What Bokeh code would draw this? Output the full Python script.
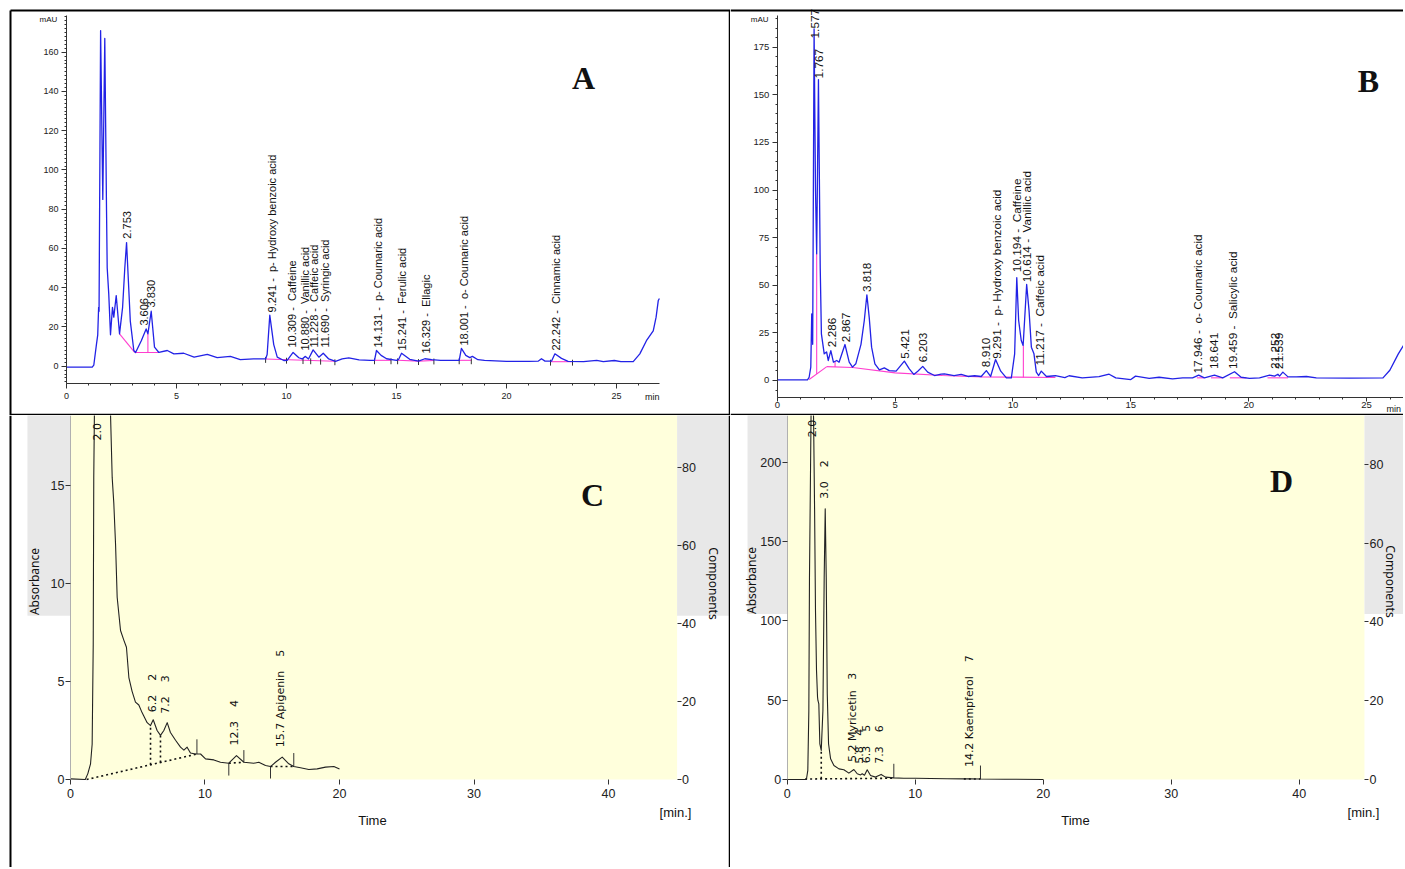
import math
from bokeh.plotting import figure
from bokeh.models import Range1d, LinearAxis, SingleIntervalTicker, FixedTicker, Label
from bokeh.layouts import column, row
from bokeh.embed import file_html
from bokeh.resources import INLINE
from bokeh.core.properties import value

NB = "\u00a0"

# ---------------- Panel A (HPLC phenolics, mAU vs min) ----------------
a_trace = [(0, -0.5), (1.17, -0.5), (1.24, 0.5), (1.36, 11), (1.42, 16), (1.46, 30), (1.48, 28),
           (1.55, 171), (1.65, 85), (1.74, 167), (1.82, 79), (1.85, 50), (1.92, 37), (2.0, 16),
           (2.09, 30), (2.15, 25), (2.26, 36), (2.41, 16.5), (2.55, 30), (2.65, 50), (2.73, 63),
           (2.9, 23), (3.06, 8), (3.14, 7), (3.4, 13), (3.62, 19), (3.7, 16.5), (3.85, 28),
           (4.0, 9.7), (4.2, 7), (4.58, 8), (4.88, 6.3), (5.33, 6.6), (5.8, 4.6), (6.4, 6),
           (6.85, 4.4), (7.45, 5), (7.9, 3.4), (8.5, 3.7), (9.05, 3.7), (9.12, 6), (9.24, 26),
           (9.42, 11), (9.58, 4.6), (9.88, 2.9), (10.03, 3.0), (10.3, 7), (10.56, 4.3),
           (10.71, 3.7), (10.86, 5), (11.0, 3.7), (11.21, 8.3), (11.47, 4.6), (11.67, 6.6),
           (11.92, 3.7), (12.23, 2.5), (12.53, 3.7), (12.83, 4.2), (13.3, 3.2), (13.8, 3.0),
           (14.0, 3.0), (14.09, 8.0), (14.3, 5.5), (14.55, 3.8), (15.0, 3.0), (15.1, 3.5),
           (15.23, 6.6), (15.6, 3.5), (16.0, 2.6), (16.29, 3.8), (16.6, 3.3), (17.0, 3.0),
           (17.85, 3.0), (17.95, 9.1), (18.15, 5.5), (18.33, 4.4), (18.45, 5.0), (18.7, 3.3),
           (19.0, 3.0), (20.0, 2.5), (21.0, 2.5), (21.45, 2.6), (21.59, 3.8), (21.75, 2.6),
           (22.05, 2.6), (22.2, 6.3), (22.5, 4.0), (22.8, 2.5), (23.5, 2.3), (24.1, 3.0),
           (24.4, 2.3), (24.9, 2.9), (25.2, 2.3), (25.76, 2.3), (26.06, 6.3), (26.36, 13),
           (26.67, 18), (26.8, 25), (26.9, 33.5), (26.95, 34.5)]
a_baselines = [[(2.41, 16.5), (3.1, 7)], [(3.1, 7), (4.2, 7)], [(3.7, 7), (3.7, 16.5)],
               [(9.05, 3.7), (12.2, 2.5)], [(14.0, 3.0), (14.75, 3.0)], [(15.05, 3.0), (16.0, 2.6)],
               [(16.0, 2.6), (16.7, 2.9)], [(17.85, 3.0), (18.4, 3.0)], [(22.0, 2.3), (23.0, 2.3)]]
a_events = [(9.05, 3.7), (10.0, 3.3), (10.75, 3.1), (11.1, 3.0), (11.55, 2.8), (12.2, 2.5),
            (14.0, 3.0), (14.75, 3.0), (15.05, 3.0), (16.0, 2.6), (16.7, 2.9), (17.85, 3.0),
            (18.4, 3.0), (22.0, 2.3), (23.0, 2.3)]
a_labels = ["2.753", "3.606", "3.830",
            "9.241 -" + NB + " p- Hydroxy benzoic acid", "10.309 -" + NB + " Caffeine",
            "10.880 -" + NB + " Vanillic acid", "11.228 -" + NB + " Caffeic acid",
            "11.690 -" + NB + " Syringic acid", "14.131 -" + NB + " p- Coumaric acid",
            "15.241 -" + NB + " Ferulic acid", "16.329 -" + NB + " Ellagic",
            "18.001 -" + NB + " o- Coumaric acid", "22.242 -" + NB + " Cinnamic acid"]
a_label_x = [2.77, 3.52, 3.84, 9.32, 10.27, 10.84, 11.23, 11.73, 14.16, 15.25, 16.36, 18.09, 22.27]
a_label_y = [65, 20.7, 29.9, 27.4, 9.5, 8, 9.5, 9.5, 9.5, 8, 6.5, 10.5, 8]

# ---------------- Panel B ----------------
b_trace = [(0, 0.3), (1.28, 0.3), (1.35, 1.7), (1.42, 7), (1.46, 35), (1.5, 19), (1.56, 184.6),
           (1.62, 100), (1.67, 66.5), (1.745, 158), (1.82, 59.5), (1.87, 24.5), (1.99, 14),
           (2.09, 15), (2.16, 10.5), (2.27, 15.7), (2.38, 9.6), (2.52, 10.5), (2.62, 9.6),
           (2.87, 18.9), (3.05, 9.6), (3.19, 7), (3.33, 8.75), (3.55, 19), (3.69, 31.5),
           (3.8, 45), (3.9, 33), (4.0, 17.5), (4.14, 8.75), (4.33, 5.6), (4.54, 6.6), (4.75, 5.2),
           (5.04, 4.9), (5.18, 7), (5.39, 10.2), (5.6, 6.1), (5.79, 3.2), (5.96, 4.9), (6.17, 7.4),
           (6.38, 4.4), (6.67, 2.6), (6.95, 3.3), (7.09, 3.5), (7.5, 2.6), (7.8, 3.2), (8.09, 2.1),
           (8.37, 2.5), (8.65, 2.1), (8.87, 5.2), (9.05, 2.1), (9.26, 11), (9.48, 4.9),
           (9.72, 1.4), (9.93, 1.4), (10.07, 14), (10.16, 54), (10.24, 31.5), (10.35, 21),
           (10.43, 18.4), (10.58, 50.4), (10.68, 36.8), (10.78, 17.5), (10.89, 14), (10.99, 4.4),
           (11.09, 2.6), (11.2, 4.9), (11.42, 2.1), (11.8, 2.5), (12.2, 1.5), (12.38, 2.5),
           (12.94, 1.4), (13.65, 2.0), (14.08, 3.3), (14.36, 1.4), (15.0, 0.5), (15.2, 2.3),
           (15.78, 1.1), (16.2, 1.7), (16.77, 0.9), (17.2, 1.4), (17.62, 1.4), (17.88, 2.8),
           (18.12, 1.4), (18.55, 2.8), (18.9, 1.4), (19.4, 4.6), (19.68, 1.7), (20.04, 1.1),
           (20.46, 1.4), (20.89, 2.8), (21.1, 2.3), (21.24, 3.3), (21.31, 2.3), (21.45, 4.4),
           (21.67, 1.9), (22.02, 1.9), (22.45, 2.1), (22.87, 1.4), (24.29, 1.2), (25.7, 1.4),
           (25.99, 5.4), (26.35, 14), (26.67, 20.4), (26.9, 24)]
b_baselines = [[(1.35, 0.5), (2.1, 7.3)],
               [(2.1, 7.3), (3.2, 6.8), (5.0, 4.0), (7.0, 2.6), (8.7, 1.9), (11.8, 1.6)],
               [(1.67, 3.4), (1.67, 66.5)], [(2.45, 7.1), (2.45, 10)], [(10.44, 1.6), (10.44, 18.4)],
               [(17.8, 1.4), (18.1, 1.4)], [(18.4, 1.4), (18.9, 1.4)], [(19.2, 1.4), (19.9, 1.4)],
               [(20.8, 1.4), (21.67, 1.4)]]
b_labels = ["1.577", "1.767", "2.286", "2.867", "3.818", "5.421", "6.203", "8.910",
            "9.291 -" + NB + " p- Hydroxy benzoic acid", "10.194 -" + NB + " Caffeine",
            "10.614 -" + NB + " Vanillic acid", "11.217 -" + NB + " Caffeic acid",
            "17.946 -" + NB + " o- Coumaric acid", "18.641", "19.459 -" + NB + " Salicylic acid",
            "21.252", "21.539"]
b_label_x = [1.59, 1.78, 2.31, 2.91, 3.81, 5.40, 6.20, 8.86, 9.33, 10.16, 10.61, 11.16,
             17.87, 18.52, 19.32, 21.10, 21.29]
b_label_y = [179.6, 158.6, 17.5, 20.1, 46.4, 11.4, 9.6, 7.0, 11.4, 56.9, 51.6, 7.9,
             3.7, 6.1, 6.1, 6.1, 6.1]

# ---------------- Panel C ----------------
c_trace = [(0, 0.03), (1.1, 0), (1.29, 0.3), (1.49, 0.8), (1.61, 1.8), (1.69, 6.9), (1.73, 15.4),
           (1.78, 18.8), (2.0, 40), (2.97, 18.8), (3.1, 15.4), (3.22, 14.1), (3.35, 12),
           (3.47, 9.3), (3.72, 7.6), (3.97, 7.1), (4.16, 6.75), (4.34, 5.2), (4.58, 4.5),
           (4.83, 3.95), (5.08, 3.8), (5.33, 3.4), (5.7, 2.9), (5.95, 2.75), (6.15, 3.05),
           (6.44, 2.5), (6.69, 2.25), (6.94, 2.5), (7.19, 2.9), (7.43, 2.4), (7.81, 2.0),
           (8.18, 1.65), (8.43, 1.5), (8.67, 1.65), (8.92, 1.35), (9.29, 1.3), (9.67, 1.3),
           (10.04, 1.05), (10.66, 1.0), (11.15, 0.88), (11.77, 0.83), (12.34, 1.22),
           (12.89, 0.88), (13.63, 0.83), (14.0, 0.88), (14.5, 0.71), (14.87, 0.66),
           (15.24, 0.88), (15.74, 1.14), (16.23, 0.8), (16.6, 0.66), (17.1, 0.6), (17.72, 0.51),
           (18.34, 0.54), (18.96, 0.63), (19.58, 0.66), (20.0, 0.54)]
c_dotted = [[(1.2, 0), (9.4, 1.3)], [(5.95, 0.75), (5.95, 2.75)], [(6.69, 0.87), (6.69, 2.25)],
            [(11.77, 0.83), (12.89, 0.88)], [(14.87, 0.66), (16.6, 0.66)]]
c_events = [[(9.4, 1.3), (9.4, 2.05)], [(11.77, 0.83), (11.77, 0.2)], [(12.89, 0.88), (12.89, 1.5)],
            [(14.87, 0.66), (14.87, 0.05)], [(16.6, 0.66), (16.6, 1.35)]]
c_labels = ["2.0", "6.2" + NB * 4 + "2", "7.2" + NB * 4 + "3", "12.3" + NB * 4 + "4",
            "15.7 Apigenin" + NB * 4 + "5"]
c_label_x = [1.97, 6.06, 7.04, 12.19, 15.61]
c_label_y = [17.3, 3.43, 3.35, 1.73, 1.65]

# ---------------- Panel D ----------------
d_trace = [(0, 0), (1.5, 0), (1.61, 5.7), (1.69, 43), (1.74, 127), (1.9, 260), (2.06, 228),
           (2.14, 170), (2.21, 106.5), (2.29, 68.7), (2.37, 52), (2.4, 49.8), (2.47, 47.7),
           (2.55, 22.5), (2.66, 18.3), (2.79, 43.5), (2.89, 127.5), (2.97, 170.6), (3.05, 127.5),
           (3.13, 54), (3.23, 22.5), (3.39, 13), (3.65, 8.8), (4.04, 6.7), (4.43, 6.1), (4.82, 4),
           (5.21, 6.3), (5.47, 3.6), (5.73, 2.9), (5.86, 3.6), (6.04, 2.7), (6.25, 6.1),
           (6.51, 2.5), (6.9, 1.5), (7.34, 3.2), (7.68, 1.5), (8.33, 1.0), (9.11, 0.8),
           (10.03, 0.8), (11.2, 0.6), (12.5, 0.5), (13.8, 0.4), (14.32, 0.5), (15.1, 0.3),
           (17.0, 0.2), (20.0, 0.0)]
d_dotted = [[(1.4, 0.3), (8.33, 0.8)], [(2.66, 0.4), (2.66, 18.3)], [(13.8, 0.4), (15.1, 0.3)]]
d_events = [[(8.33, 1.0), (8.33, 9.9)], [(15.1, 0.3), (15.1, 8.8)]]
d_labels = ["2.0", "3.0" + NB * 4 + "2", "5.2 Myricetin" + NB * 3 + "3", "5.8" + NB * 3 + "4",
            "6.3" + NB * 4 + "5", "7.3" + NB * 4 + "6", "14.2 Kaempferol" + NB * 4 + "7"]
d_label_x = [1.9, 2.9, 5.1, 5.65, 6.17, 7.21, 14.24]
d_label_y = [215.7, 176.9, 11, 10, 10.3, 10, 7.8]

# tick values
a_yticks_interval = 20
b_yticks_interval = 25
cd_xticks = [0, 10, 20, 30, 40]
c_yticks = [0, 5, 10, 15]
d_yticks = [0, 50, 100, 150, 200]
comp_ticks = [0, 20, 40, 60, 80]

# ---------------- styling ----------------
BLUE = "#2222e6"
MAGENTA = "#ff3fcf"
YELLOW = "#ffffdc"
GRAY = "#e8e8e8"
SANS = "Liberation Sans"
NARROW = "Liberation Sans Narrow, Liberation Sans"
VERD = "DejaVu Sans"
SERIF = "Liberation Serif"


def make_fig(w, h, xr, yr):
    p = figure(width=w, height=h, x_range=Range1d(*xr), y_range=Range1d(*yr),
               output_backend="svg", toolbar_location=None, title=None,
               x_axis_location=None, y_axis_location=None, min_border=0)
    p.xgrid.visible = False
    p.ygrid.visible = False
    p.outline_line_color = None
    p.background_fill_color = "white"
    p.border_fill_color = "white"
    return p


def unzip(pairs):
    return [q[0] for q in pairs], [q[1] for q in pairs]


def multi(p, groups, **kw):
    xs = [[q[0] for q in g] for g in groups]
    ys = [[q[1] for q in g] for g in groups]
    p.multi_line(xs=xs, ys=ys, **kw)


def frame_lines(p, segs, width):
    p.segment(x0=[s[0] for s in segs], y0=[s[1] for s in segs], x1=[s[2] for s in segs],
              y1=[s[3] for s in segs], line_color="black", line_width=width)


def style_axis(ax, font, size, tick_out=5, minor_out=2, standoff=3, line_color="#333333"):
    ax.major_label_text_font = font
    ax.major_label_text_font_size = size
    ax.major_label_text_color = "#222222"
    ax.major_tick_out = tick_out
    ax.major_tick_in = 0
    ax.minor_tick_out = minor_out
    ax.minor_tick_in = 0
    ax.major_label_standoff = standoff
    ax.axis_line_color = line_color
    ax.major_tick_line_color = "#333333"
    ax.minor_tick_line_color = "#333333"


def vtext(p, xs, ys, texts, font, size, color="#111111", angle=math.pi / 2):
    p.text(x=xs, y=ys, text=texts, angle=angle, text_align="left", text_baseline="middle",
           text_font=value(font), text_font_size=size, text_color=color)


def label(p, x, y, text, font, size, angle=0.0, bold=False, align="center", color="#111111"):
    p.add_layout(Label(x=x, y=y, text=text, angle=angle, text_align=align, text_baseline="middle",
                       text_font=font, text_font_size=size, text_color=color,
                       text_font_style="bold" if bold else "normal"))


# ================= Panel A =================
A_X = (-3.0, 30.1818)
A_Y = (-25.12, 186.34)
pA = make_fig(730, 415, A_X, A_Y)
xa = LinearAxis(fixed_location=-8.9, bounds=(0, 26.95),
                ticker=SingleIntervalTicker(interval=5, num_minor_ticks=5))
style_axis(xa, SANS, "9px", standoff=4)
pA.add_layout(xa, "below")
ya = LinearAxis(fixed_location=0, bounds=(-8.9, 178.7),
                ticker=SingleIntervalTicker(interval=a_yticks_interval, num_minor_ticks=10))
style_axis(ya, SANS, "9px", standoff=3)
pA.add_layout(ya, "left")
multi(pA, a_baselines, line_color=MAGENTA, line_width=1.1)
pA.segment(x0=[e[0] for e in a_events], y0=[e[1] + 1.0 for e in a_events],
           x1=[e[0] for e in a_events], y1=[e[1] - 2.0 for e in a_events],
           line_color="#333333", line_width=1)
at, av = unzip(a_trace)
pA.line(at, av, line_color=BLUE, line_width=1.3, line_join="round")
vtext(pA, a_label_x, a_label_y, a_labels, SANS, "11px")
label(pA, -0.82, 176.7, "mAU", SANS, "8px")
label(pA, 26.3, -15.9, "min", SANS, "9px", align="left")
label(pA, 23.5, 147.1, "A", SERIF, "32px", bold=True)
A_L, A_T = -2.545, 181.25
frame_lines(pA, [(A_L, A_Y[0], A_L, A_T), (A_L, A_T, A_X[1], A_T)], 2)
frame_lines(pA, [(A_X[1], A_Y[0], A_X[1], A_T), (A_L, A_Y[0], A_X[1], A_Y[0])], 3.5)

# ================= Panel B =================
B_X = (-1.987, 26.57)
B_Y = (-18.38, 199.52)
pB = make_fig(673, 415, B_X, B_Y)
xb = LinearAxis(fixed_location=-8.9, bounds=(0, 26.6),
                ticker=SingleIntervalTicker(interval=5, num_minor_ticks=5))
style_axis(xb, SANS, "9.5px", tick_out=4, standoff=1)
pB.add_layout(xb, "below")
yb = LinearAxis(fixed_location=0, bounds=(-8.9, 191.6),
                ticker=SingleIntervalTicker(interval=b_yticks_interval, num_minor_ticks=5))
style_axis(yb, SANS, "9.5px", standoff=3)
pB.add_layout(yb, "left")
multi(pB, b_baselines, line_color=MAGENTA, line_width=1.1)
bt, bv = unzip(b_trace)
pB.line(bt, bv, line_color=BLUE, line_width=1.3, line_join="round")
vtext(pB, b_label_x, b_label_y, b_labels, SANS, "11.8px")
label(pB, -0.75, 189.8, "mAU", SANS, "8px")
label(pB, 25.85, -15.2, "min", SANS, "9px", align="left")
label(pB, 25.08, 157.5, "B", SERIF, "32px", bold=True)
B_T = 194.27
frame_lines(pB, [(B_X[0], B_T, B_X[1], B_T)], 2)
frame_lines(pB, [(B_X[0], B_Y[0], B_X[1], B_Y[0])], 3.5)


# ================= Panels C / D helpers =================
def cd_panel(w, h, xr, yr, comp_r, yticks, gray_left):
    p = make_fig(w, h, xr, yr)
    p.extra_y_ranges = {"comp": Range1d(*comp_r)}
    p.quad(left=[0], right=[45.1], bottom=[0], top=[yr[1] * 1.2], fill_color=YELLOW, line_color=None)
    p.quad(left=[gray_left, 45.1], right=[0, xr[1] + 5], bottom=[42, 42], top=[comp_r[1] + 10] * 2,
           fill_color=GRAY, line_color=None, y_range_name="comp")
    xax = LinearAxis(fixed_location=0, bounds=(0, 45.1), ticker=FixedTicker(ticks=cd_xticks, minor_ticks=[]))
    style_axis(xax, NARROW, "12.5px", tick_out=5, standoff=5, line_color=None)
    p.add_layout(xax, "below")
    yax = LinearAxis(fixed_location=0, bounds=(0, yr[1]), ticker=FixedTicker(ticks=yticks, minor_ticks=[]))
    style_axis(yax, NARROW, "12.5px", tick_out=5, standoff=1, line_color="#b0b0b0")
    p.add_layout(yax, "left")
    rax = LinearAxis(fixed_location=45.1, y_range_name="comp", bounds=(0, comp_r[1]),
                     ticker=FixedTicker(ticks=comp_ticks, minor_ticks=[]))
    style_axis(rax, NARROW, "12.5px", tick_out=4, standoff=1, line_color=None)
    p.add_layout(rax, "right")
    return p


# ================= Panel C =================
C_X = (-5.204, 49.07)
C_Y = (-4.49, 18.571)
pC = cd_panel(730, 452, C_X, C_Y, (-22.56, 93.33), c_yticks, -3.2)
multi(pC, c_dotted, line_color="#111111", line_width=1.6, line_dash="2 3")
multi(pC, c_events, line_color="#333333", line_width=1)
ct, cv = unzip(c_trace)
pC.line(ct, cv, line_color="#222222", line_width=1.1, line_join="round")
vtext(pC, c_label_x, c_label_y, c_labels, VERD, "11px")
label(pC, -2.68, 10.1, "Absorbance", "Noto Sans", "12px", angle=math.pi / 2)
label(pC, 47.81, 10.0, "Components", "Noto Sans", "12px", angle=-math.pi / 2)
label(pC, 22.45, -2.09, "Time", NARROW, "13px")
label(pC, 44.98, -1.68, "[min.]", NARROW, "13px")
label(pC, 38.81, 14.49, "C", SERIF, "32px", bold=True)
C_L = -4.461
frame_lines(pC, [(C_L, C_Y[0], C_L, C_Y[1])], 2)
frame_lines(pC, [(C_X[1], C_Y[0], C_X[1], C_Y[1])], 3.5)

# ================= Panel D =================
D_X = (-4.43, 48.15)
D_Y = (-55.45, 229.36)
pD = cd_panel(673, 452, D_X, D_Y, (-22.34, 92.39), d_yticks, -3.1)
multi(pD, d_dotted, line_color="#111111", line_width=1.6, line_dash="2 3")
multi(pD, d_events, line_color="#333333", line_width=1)
dt, dv = unzip(d_trace)
pD.line(dt, dv, line_color="#222222", line_width=1.1, line_join="round")
vtext(pD, d_label_x, d_label_y, d_labels, VERD, "11px")
label(pD, -2.79, 125.4, "Absorbance", "Noto Sans", "12px", angle=math.pi / 2)
label(pD, 47.1, 124.8, "Components", "Noto Sans", "12px", angle=-math.pi / 2)
label(pD, 22.52, -25.8, "Time", NARROW, "13px")
label(pD, 45.02, -20.8, "[min.]", NARROW, "13px")
label(pD, 38.62, 188.4, "D", SERIF, "32px", bold=True)

layout = column(row(pA, pB), row(pC, pD))
open("out.html", "w").write(file_html(layout, INLINE))
